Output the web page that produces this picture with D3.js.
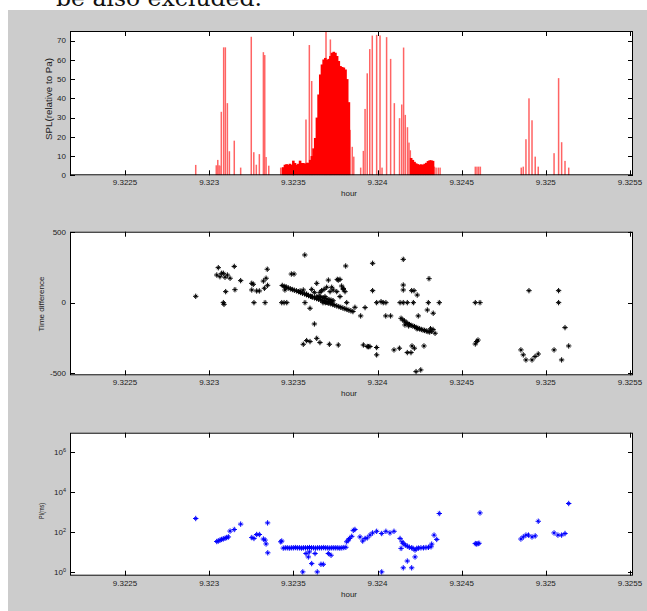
<!DOCTYPE html>
<html><head><meta charset="utf-8">
<script src="https://cdn.jsdelivr.net/npm/d3@7"></script>
<style>body{margin:0;background:#fff}svg{display:block}</style>
</head><body>
<svg id="c" width="647" height="611"></svg>
<script>
// ---------- data ----------
const xTickValues = [9.3225, 9.323, 9.3235, 9.324, 9.3245, 9.325, 9.3255];
const xTickLabels = ["9.3225", "9.323", "9.3235", "9.324", "9.3245", "9.325", "9.3255"];

const splTicks = [0, 10, 20, 30, 40, 50, 60, 70];
const tdTicks = [-500, 0, 500];
const tdTickLabels = ["-500", "0", "500"];
const piTicks = [1, 100, 10000, 1000000];
const piTickExponents = ["0", "2", "4", "6"];

// SPL: dense (contiguous) bars
const splDenseHour = [
  9.32344, 9.32345, 9.32346, 9.32347, 9.32348, 9.32349, 9.32350, 9.32351, 9.32352, 9.32353,
  9.32354, 9.32355, 9.32356, 9.32357, 9.32358, 9.32359, 9.32360, 9.32361, 9.32362, 9.32363,
  9.32364, 9.32365, 9.32366, 9.32367, 9.32368, 9.32369, 9.32370, 9.32371, 9.32372, 9.32373,
  9.32374, 9.32375, 9.32376, 9.32377, 9.32378, 9.32379, 9.32380, 9.32381, 9.32382, 9.32383,
  9.32420, 9.32421, 9.32422, 9.32423, 9.32424, 9.32425, 9.32426, 9.32427, 9.32428, 9.32429,
  9.32430, 9.32431, 9.32432, 9.32433
];
const splDenseValue = [
  4.2, 5.5, 5.8, 5.5, 6, 5.5, 7.6, 6.4, 5.5, 6,
  7.6, 6.4, 6.4, 6, 6.5, 6.5, 8, 10, 14, 19.4,
  30, 42, 52.4, 57.6, 60.2, 61, 60, 60.5, 62, 63.7,
  64.2, 63.7, 62, 59.4, 56.8, 56.3, 56, 55, 50, 38,
  9, 8, 7, 6.2, 5.8, 5.5, 5.7, 5.5, 6, 6.5,
  7.4, 7.8, 7.8, 7.5
];
// SPL: isolated bars
const splIsoHour = [
  9.322920, 9.323042, 9.323051, 9.323058, 9.323064, 9.323072, 9.323086, 9.323096, 9.323108, 9.323120,
  9.323149, 9.323187, 9.323250, 9.323265, 9.323280, 9.323298, 9.323322, 9.323330, 9.323338, 9.323354,
  9.323425, 9.323433, 9.323575, 9.323595, 9.323609, 9.323694, 9.323720, 9.323837, 9.323850, 9.323859,
  9.323900, 9.323916, 9.323926, 9.323939, 9.323954, 9.323969, 9.323995, 9.324015, 9.324027, 9.324054,
  9.324078, 9.324100, 9.324131, 9.324144, 9.324155, 9.324165, 9.324178, 9.324187, 9.324195, 9.324338,
  9.324348, 9.324361, 9.324372, 9.324581, 9.324591, 9.324601, 9.324611, 9.324854, 9.324866, 9.324882,
  9.324900, 9.324918, 9.324937, 9.324955, 9.325049, 9.325076, 9.325094, 9.325114, 9.325136
];
const splIsoValue = [
  5.4, 5.2, 8, 5.2, 5, 33, 66.5, 66.5, 37.5, 12.5,
  18, 4, 72, 12, 5.5, 11, 64, 62.5, 9.5, 5,
  4, 4, 29, 67.7, 49, 75, 70.6, 23.6, 14.8, 9.7,
  4, 12.7, 34.5, 53, 65.6, 72.6, 73, 72.7, 4, 71.8,
  60.5, 37.5, 29.7, 36.8, 66.4, 31.4, 25, 17, 13, 4.5,
  4, 4, 4, 4.5, 4.5, 4.5, 4.5, 4, 4.5, 18.75,
  40, 28.6, 9.7, 4.5, 11.5, 50.5, 17.2, 7.5, 4
];

// Time difference scatter
const tdHour = [
  9.322920, 9.323045, 9.323054, 9.323064, 9.323074, 9.323084, 9.323084, 9.323088, 9.323094, 9.323098,
  9.323108, 9.323124, 9.323149, 9.323153, 9.323187, 9.323253, 9.323262, 9.323253, 9.323266, 9.323282,
  9.323298, 9.323322, 9.323328, 9.323338, 9.323345, 9.323347, 9.323332, 9.323431, 9.323445, 9.323461,
  9.323450, 9.323455, 9.323488, 9.323504, 9.323568, 9.323811, 9.323540, 9.323559, 9.323579, 9.323609,
  9.323639, 9.323625, 9.323658, 9.323668, 9.323682, 9.323698, 9.323708, 9.323718, 9.323728, 9.323737,
  9.323758, 9.323767, 9.323777, 9.323787, 9.323797, 9.323807, 9.323817, 9.323777, 9.323688, 9.323658,
  9.323609, 9.323569, 9.323599, 9.323625, 9.323639, 9.323658, 9.323559, 9.323579, 9.323599, 9.323714,
  9.323767, 9.323866, 9.323900, 9.323926, 9.323916, 9.323946, 9.323939, 9.323955, 9.323761, 9.323797,
  9.323434, 9.323446, 9.323458, 9.323470, 9.323482, 9.323494, 9.323506, 9.323518, 9.323530, 9.323542,
  9.323554, 9.323566, 9.323578, 9.323590, 9.323602, 9.323614, 9.323626, 9.323638, 9.323650, 9.323662,
  9.323674, 9.323686, 9.323698, 9.323710, 9.323722, 9.323734, 9.323746, 9.323758, 9.323770, 9.323782,
  9.323794, 9.323806, 9.323818, 9.323830, 9.323842, 9.323854, 9.323640, 9.323652, 9.323664, 9.323676,
  9.323688, 9.323700, 9.323712, 9.323724, 9.323736, 9.323676, 9.323690, 9.323705, 9.323718, 9.323730,
  9.323971, 9.323971, 9.323995, 9.323995, 9.323995, 9.324021, 9.324034, 9.324050, 9.324049, 9.324078,
  9.324098, 9.324130, 9.324134, 9.324153, 9.324177, 9.324153, 9.324153, 9.324153, 9.324203, 9.324217,
  9.324236, 9.324213, 9.324242, 9.324205, 9.324219, 9.324177, 9.324199, 9.324229, 9.324257, 9.324276,
  9.324302, 9.324306, 9.324296, 9.324331, 9.324367, 9.324140, 9.324150, 9.324160, 9.324170, 9.324180,
  9.324190, 9.324200, 9.324210, 9.324220, 9.324230, 9.324240, 9.324250, 9.324260, 9.324270, 9.324280,
  9.324290, 9.324300, 9.324310, 9.324320, 9.324330, 9.324342, 9.324163, 9.324185, 9.324235, 9.324315,
  9.324581, 9.324609, 9.324581, 9.324589, 9.324597, 9.324852, 9.324866, 9.324882, 9.324918, 9.324936,
  9.324955, 9.324900, 9.325049, 9.325076, 9.325076, 9.325094, 9.325114, 9.325136
];
const tdValue = [
  45, 196, 248, 184, 208, 208, 0, -12, 180, 78,
  196, 173, 257, 92, 156, 137, 130, 90, 0, 83,
  83, 153, 102, 173, 237, 123, 0, 0, 0, 0,
  90, 109, 203, 203, 338, 260, 83, 90, 61, 94,
  137, 73, 73, 85, 94, 109, 160, 78, 109, 90,
  78, 160, 165, 118, 94, 78, 0, 43, 43, 43,
  43, 0, -40, -151, -253, -283, -295, -269, -276, -295,
  -300, -33, -94, -35, -300, -312, -311, -311, 165, 101,
  122, 115, 110, 104, 98, 93, 88, 84, 78, 72,
  67, 62, 56, 50, 45, 40, 34, 29, 24, 18,
  14, 8, 3, -3, -8, -13, -18, -23, -28, -33,
  -38, -43, -48, -53, -58, -63, 45, 42, 38, 35,
  30, 26, 22, 18, 14, 0, 0, 0, 7, 5,
  279, 85, 0, -318, -370, 7, 0, 0, -94, -94,
  -335, -323, 0, 0, 0, 307, 125, 90, 85, 85,
  54, 0, -94, -307, -323, -354, -354, -489, -477, -307,
  0, 170, -52, -75, 0, -111, -122, -130, -140, -148,
  -155, -161, -166, -170, -176, -181, -186, -190, -194, -197,
  -201, -205, -208, -203, -190, -217, -158, -165, -185, -185,
  0, 0, -293, -276, -265, -335, -370, -406, -406, -382,
  -364, 85, -335, 85, 0, -406, -177, -307
];

// PI (ms) scatter, log scale
const piHour = [
  9.322920, 9.323045, 9.323054, 9.323064, 9.323074, 9.323084, 9.323094, 9.323104, 9.323114, 9.323124,
  9.323149, 9.323187, 9.323253, 9.323266, 9.323282, 9.323298, 9.323322, 9.323332, 9.323338, 9.323347,
  9.323348, 9.323425, 9.323431, 9.323575, 9.323589, 9.323595, 9.323609, 9.323629, 9.323642, 9.323556,
  9.323664, 9.323678, 9.323708, 9.323724, 9.323817, 9.323827, 9.323833, 9.323847, 9.323856, 9.323866,
  9.323896, 9.323912, 9.323926, 9.323939, 9.323955, 9.323971, 9.323995, 9.324025, 9.324025, 9.324050,
  9.324074, 9.324098, 9.324134, 9.324140, 9.324146, 9.324153, 9.324153, 9.324165, 9.324177, 9.324177,
  9.324189, 9.324203, 9.324203, 9.324211, 9.324223, 9.324223, 9.324233, 9.324244, 9.324258, 9.324273,
  9.324288, 9.324303, 9.324318, 9.324322, 9.324336, 9.324352, 9.324367, 9.324581, 9.324589, 9.324597,
  9.324603, 9.324609, 9.324852, 9.324866, 9.324882, 9.324897, 9.324918, 9.324937, 9.324955, 9.325049,
  9.325072, 9.325094, 9.325114, 9.325136,
  9.323440, 9.323452, 9.323464, 9.323476, 9.323488, 9.323500, 9.323512, 9.323524, 9.323536, 9.323548,
  9.323560, 9.323572, 9.323584, 9.323596, 9.323608, 9.323620, 9.323632, 9.323644, 9.323656, 9.323668,
  9.323680, 9.323692, 9.323704, 9.323716, 9.323728, 9.323740, 9.323752, 9.323764, 9.323776, 9.323788,
  9.323800, 9.323812
];
const piValue = [
  468, 33, 35, 39, 42, 45, 48, 52, 56, 110,
  132, 245, 52, 47, 74, 74, 44, 39, 25, 282,
  9, 32, 35, 8.3, 5.6, 10, 2.6, 8.3, 1, 1,
  2.4, 2.4, 8.3, 6.8, 32, 39, 47, 60, 120, 132,
  56, 35, 47, 50, 69, 89, 107, 83, 1, 107,
  89, 107, 47, 15, 32, 26, 1.6, 22, 19.5, 3.5,
  17, 16, 1.6, 15, 12.3, 5.6, 15, 15.5, 16, 16,
  16.5, 17, 18, 24.5, 69, 42, 830, 26, 25, 26,
  27, 890, 44, 56, 69, 69, 56, 63, 340, 89,
  69, 69, 83, 2630,
  15.5, 16, 16, 15.5, 16, 16, 16.5, 16, 16, 15.5,
  16, 16, 16, 16.5, 16, 16, 15.5, 16, 16, 16,
  16.5, 16, 16, 15.5, 16, 16, 16, 16, 15.5, 16,
  16.5, 17
];

// ---------- drawing ----------
const svg = d3.select("#c");
const FONT = "'Liberation Sans', Arial, sans-serif";
svg.append("rect").attr("x", 8).attr("y", 10).attr("width", 639).attr("height", 601).attr("fill", "#cccccc");
svg.append("text").attr("x", 56).attr("y", 6)
  .attr("font-family", "'DejaVu Serif', serif").attr("font-size", 22)
  .attr("textLength", 206).attr("lengthAdjust", "spacingAndGlyphs")
  .attr("fill", "#111").text("be also excluded.");

const X0 = 70, X1 = 633;
const x = d3.scaleLinear().domain([9.322173, 9.325518]).range([X0, X1]);

function panel(id, top, bottom, y, yTicks, yLabels, yTitle, titleOpts) {
  const g = svg.append("g");
  g.append("rect").attr("x", X0).attr("y", top).attr("width", X1 - X0).attr("height", bottom - top).attr("fill", "#fff");
  svg.append("clipPath").attr("id", id).append("rect")
    .attr("x", X0).attr("y", top).attr("width", X1 - X0).attr("height", bottom - top);
  const plot = g.append("g").attr("clip-path", `url(#${id})`);
  const axes = g.append("g");
  const frame = () => {
    axes.append("rect").attr("x", X0 + 0.5).attr("y", top + 0.5).attr("width", X1 - X0 - 1).attr("height", bottom - top - 1)
      .attr("fill", "none").attr("stroke", "#000").attr("stroke-width", 1);
    xTickValues.forEach((v, i) => {
      const px = Math.round(x(v)) + 0.5;
      axes.append("line").attr("x1", px).attr("x2", px).attr("y1", bottom).attr("y2", bottom - 5).attr("stroke", "#000");
      axes.append("line").attr("x1", px).attr("x2", px).attr("y1", top).attr("y2", top + 5).attr("stroke", "#000");
      axes.append("text").attr("x", x(v)).attr("y", bottom + 10).attr("text-anchor", "middle")
        .attr("font-family", FONT).attr("font-size", 8).attr("fill", "#222").text(xTickLabels[i]);
    });
    yTicks.forEach((v, i) => {
      const py = Math.round(y(v)) + 0.5;
      axes.append("line").attr("x1", X0).attr("x2", X0 + 5).attr("y1", py).attr("y2", py).attr("stroke", "#000");
      axes.append("line").attr("x1", X1).attr("x2", X1 - 5).attr("y1", py).attr("y2", py).attr("stroke", "#000");
      const t = axes.append("text").attr("x", X0 - 4).attr("y", y(v)).attr("dy", "0.35em").attr("text-anchor", "end")
        .attr("font-family", FONT).attr("font-size", 8).attr("fill", "#222");
      yLabels(t, i, v);
    });
    axes.append("text").attr("x", 349).attr("y", bottom + 21).attr("text-anchor", "middle")
      .attr("font-family", FONT).attr("font-size", 8).attr("fill", "#222").text("hour");
    axes.append("text").attr("transform", `translate(${titleOpts.x},${titleOpts.y}) rotate(-90)`)
      .attr("text-anchor", "middle").attr("font-family", FONT).attr("font-size", titleOpts.size)
      .attr("textLength", titleOpts.len).attr("lengthAdjust", "spacingAndGlyphs")
      .attr("fill", "#222").text(yTitle);
  };
  return { plot, frame };
}

// Panel 1: SPL bars
{
  const y = d3.scaleLinear().domain([0, 75]).range([175.3, 31]);
  const p = panel("c1", 31, 175.3, y, splTicks, (t, i, v) => t.text(String(v)),
    "SPL(relative to Pa)", { x: 52, y: 99, size: 9, len: 82 });
  const iso = d3.zip(splIsoHour, splIsoValue);
  const dense = d3.zip(splDenseHour, splDenseValue);
  p.plot.selectAll("rect.iso").data(iso).join("rect").attr("class", "iso")
    .attr("x", d => x(d[0]) - 0.75).attr("width", 1.5)
    .attr("y", d => y(d[1])).attr("height", d => y(0) - y(d[1]))
    .attr("fill", "#ff6464");
  p.plot.selectAll("rect.dense").data(dense).join("rect").attr("class", "dense")
    .attr("x", d => x(d[0]) - 1.3).attr("width", 2.6)
    .attr("y", d => y(d[1])).attr("height", d => y(0) - y(d[1]))
    .attr("fill", "#ff0000");
  p.frame();
}

const plusType = d3.symbolPlus || d3.symbolCross;
const timesType = d3.symbolTimes || d3.symbolX || d3.symbolCross;
function markers(g, data, xs, ys, color) {
  const plus = d3.symbol().type(plusType).size(11)();
  const times = d3.symbol().type(timesType).size(7)();
  const sel = g.selectAll("g.m").data(data).join("g").attr("class", "m")
    .attr("transform", d => `translate(${xs(d[0])},${ys(d[1])})`);
  sel.append("path").attr("d", plus).attr("fill", "none").attr("stroke", color).attr("stroke-width", 1);
  sel.append("path").attr("d", times).attr("fill", "none").attr("stroke", color).attr("stroke-width", 1);
}

// Panel 2: time difference
{
  const y = d3.scaleLinear().domain([-515, 503]).range([375.3, 231.7]);
  const p = panel("c2", 231.7, 375.3, y, tdTicks, (t, i) => t.text(tdTickLabels[i]),
    "Time difference", { x: 44, y: 304, size: 8, len: 55 });
  markers(p.plot, d3.zip(tdHour, tdValue), x, y, "#000");
  p.frame();
}

// Panel 3: PI log scale
{
  const y = d3.scaleLog().domain([0.646, 9.1e6]).range([575.7, 432.7]);
  const p = panel("c3", 432.7, 575.7, y, piTicks, (t, i) => {
    t.append("tspan").text("10");
    t.append("tspan").attr("dy", "-0.5em").attr("font-size", 5.5).text(piTickExponents[i]);
  }, "PI(ms)", { x: 44, y: 511, size: 6.5, len: 16 });
  markers(p.plot, d3.zip(piHour, piValue), x, y, "#0000ff");
  p.frame();
}
</script>
</body></html>
